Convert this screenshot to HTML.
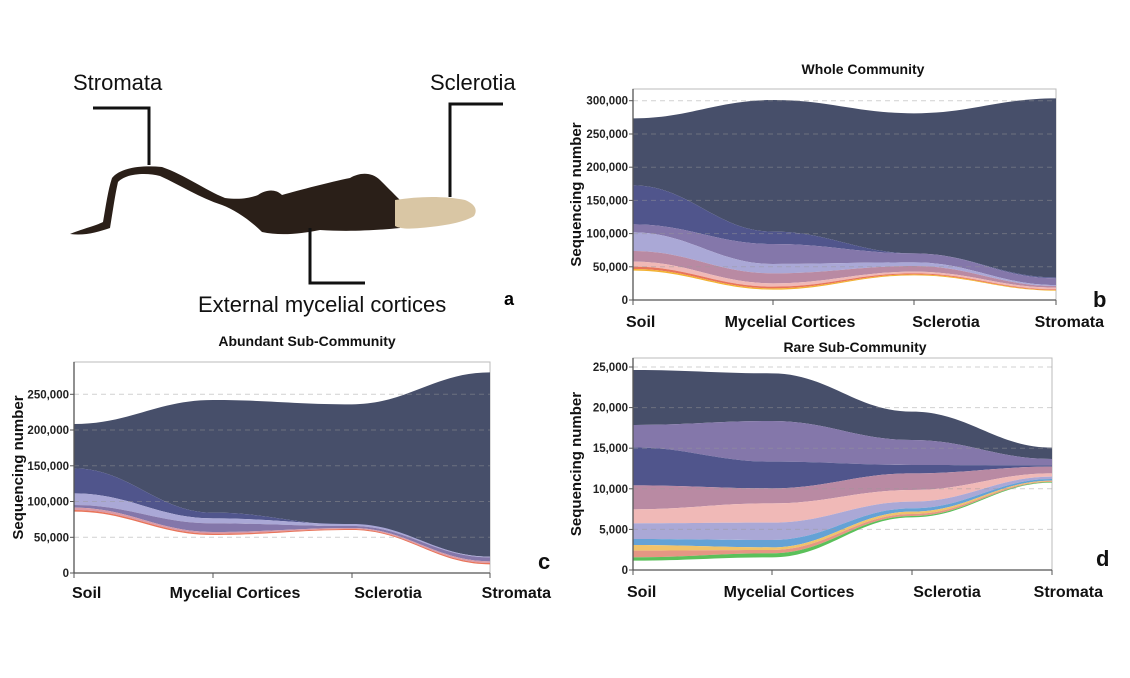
<!DOCTYPE html>
<html><head><meta charset="utf-8"><style>
html,body{margin:0;padding:0;background:#fff;}
svg{display:block;font-family:"Liberation Sans",Arial,sans-serif;}
</style></head><body>
<svg id="s" width="1130" height="678" viewBox="0 0 1130 678" xmlns="http://www.w3.org/2000/svg">
<rect width="1130" height="678" fill="#fff"/>
<g fill="#2a1f18">
<path d="M70,234 C85,228 95,226 103,222 C106,205 108,190 112,178 C120,168 140,165 162,167 C185,175 205,190 225,198 C240,200 250,198 258,195 C265,190 275,188 282,195 C300,190 330,182 350,178 C360,172 372,172 380,180 C388,188 395,195 400,200 L400,228 C380,230 350,232 320,230 C300,234 280,236 262,232 C250,220 235,210 222,205 C200,198 180,185 160,176 C145,172 125,174 118,182 C115,195 113,210 110,228 C98,232 85,236 70,234 Z"/>
</g>
<path d="M395,200 C420,196 445,196 465,200 C475,204 478,210 474,216 C465,222 445,226 420,228 C410,229 400,229 395,226 Z" fill="#d9c6a4"/>
<g stroke="#111" stroke-width="3" fill="none">
<path d="M93,108 H149 V165"/>
<path d="M503,104 H450 V197"/>
<path d="M310,228 V283 H365"/>
</g>
<g font-size="22" fill="#111">
<text x="73" y="90">Stromata</text>
<text x="430" y="90">Sclerotia</text>
<text x="198" y="312">External mycelial cortices</text>
</g>
<text x="504" y="305" font-size="18" font-weight="bold">a</text>
<g id="charts"></g>
</svg>
<script>
function sp(xs,ys){let d="M"+xs[0]+","+ys[0];for(let i=1;i<xs.length;i++){let dx=(xs[i]-xs[i-1])/2.5;d+=" C"+(xs[i-1]+dx)+","+ys[i-1]+" "+(xs[i]-dx)+","+ys[i]+" "+xs[i]+","+ys[i];}return d;}
function spr(xs,ys){let X=xs.slice().reverse(),Y=ys.slice().reverse();let d="";for(let i=1;i<X.length;i++){let dx=(X[i]-X[i-1])/2.5;d+=" C"+(X[i-1]+dx)+","+Y[i-1]+" "+(X[i]-dx)+","+Y[i]+" "+X[i]+","+Y[i];}return d;}
let out="";
function chart(o){
 const xs=o.xs;let g="";
 g+=`<rect x="${xs[0]}" y="${o.ftop}" width="${xs[3]-xs[0]}" height="${o.y0-o.ftop}" fill="none" stroke="#bbb" stroke-width="1"/>`;
 const L=o.layers;
 for(let i=0;i<L.length-1;i++){
  const top=L[i].y.map(v=>o.oy+v/3),bot=L[i+1].y.map(v=>o.oy+v/3);
  g+=`<path d="${sp(xs,top)} L${xs[3]},${bot[3]}${spr(xs,bot)} Z" fill="${L[i].c}"/>`;
 }
 o.ticks.forEach(t=>{g+=`<line x1="${xs[0]}" x2="${xs[3]}" y1="${t[1]}" y2="${t[1]}" stroke="#999" stroke-opacity="0.45" stroke-dasharray="5,4"/>`;
  g+=`<line x1="${xs[0]-4}" x2="${xs[0]}" y1="${t[1]}" y2="${t[1]}" stroke="#555"/>`;
  g+=`<text x="${xs[0]-5}" y="${t[1]+4}" font-size="11.5" font-weight="bold" text-anchor="end" fill="#222">${t[0]}</text>`;});
 g+=`<line x1="${xs[0]}" x2="${xs[0]}" y1="${o.ftop}" y2="${o.y0}" stroke="#555" stroke-width="1.3"/>`;
 g+=`<line x1="${xs[0]}" x2="${xs[3]}" y1="${o.y0}" y2="${o.y0}" stroke="#555" stroke-width="1.3"/>`;
 const names=["Soil","Mycelial Cortices","Sclerotia","Stromata"];
 xs.forEach((x,i)=>{g+=`<line x1="${x}" x2="${x}" y1="${o.y0}" y2="${o.y0+5}" stroke="#555"/>`;
  let anc=i==0?"start":(i==3?"end":"middle");
  g+=`<text x="${o.lx[i]}" y="${o.lby}" font-size="16" font-weight="bold" text-anchor="${anc}" fill="#111">${names[i]}</text>`;});
 g+=`<text x="${o.tx}" y="${o.ty}" font-size="14" font-weight="bold" text-anchor="middle" fill="#111">${o.title}</text>`;
 g+=`<text transform="translate(${o.ylx},${(o.ftop+o.y0)/2}) rotate(-90)" font-size="15" font-weight="bold" text-anchor="middle" fill="#111">Sequencing number</text>`;
 g+=`<text x="${o.labx}" y="${o.laby}" font-size="22" font-weight="bold" fill="#111">${o.lab}</text>`;
 out+=g;
}
const D="#474f6a",B="#50558c",P="#8477aa",LV="#aaa8d6",M="#b98aa3",PK="#f0b9b7";
chart({xs:[633,773,914,1056],ftop:89,y0:300,oy:60,title:"Whole Community",tx:863,ty:74,ylx:581,lab:"b",labx:1093,laby:307,
 lx:[626,790,946,1104],lby:327,
 ticks:[["0",300],["50,000",266.8],["100,000",233.6],["150,000",200.4],["200,000",167.2],["250,000",134],["300,000",100.7]],
 layers:[{y:[175,120,160,115],c:D},{y:[376,515,580,652],c:B},{y:[493,552,580,655],c:P},{y:[517,612,607,675],c:LV},{y:[573,640,618,678],c:M},{y:[605,670,635,683],c:PK},{y:[620,680,640,688],c:"#e8745a"},{y:[627,685,643,690],c:"#f2b233"},{y:[632,689,646,692],c:"#fff"}]});
chart({xs:[74,213,352,490],ftop:362,y0:573,oy:330,title:"Abundant Sub-Community",tx:307,ty:346,ylx:23,lab:"c",labx:538,laby:569,
 lx:[72,235,388,551],lby:598,
 ticks:[["0",573],["50,000",537.3],["100,000",501.5],["150,000",465.8],["200,000",430],["250,000",394.3]],
 layers:[{y:[282,210,223,127],c:D},{y:[415,548,585,680],c:B},{y:[490,565,582,680],c:LV},{y:[525,580,588,682],c:P},{y:[533,606,594,694],c:"#d99aa8"},{y:[540,611,597,699],c:"#e8745a"},{y:[545,615,600,703],c:"#fff"}]});
chart({xs:[633,772,912,1052],ftop:358,y0:570,oy:340,title:"Rare Sub-Community",tx:855,ty:352,ylx:581,lab:"d",labx:1096,laby:566,
 lx:[627,789,947,1103],lby:597,
 ticks:[["0",570],["5,000",529.4],["10,000",488.8],["15,000",448.2],["20,000",407.6],["25,000",367]],
 layers:[{y:[90,100,215,323],c:D},{y:[255,243,300,357],c:P},{y:[322,365,375,376],c:B},{y:[436,445,400,380],c:M},{y:[508,490,450,400],c:PK},{y:[550,548,485,410],c:LV},{y:[597,600,505,417],c:"#64a2d6"},{y:[615,622,515,422],c:"#f0c36a"},{y:[632,630,522,424],c:"#e59684"},{y:[652,640,528,426],c:"#5bc05a"},{y:[662,652,532,428],c:"#fff"}]});
document.getElementById("charts").innerHTML=out;
</script>
</body></html>
